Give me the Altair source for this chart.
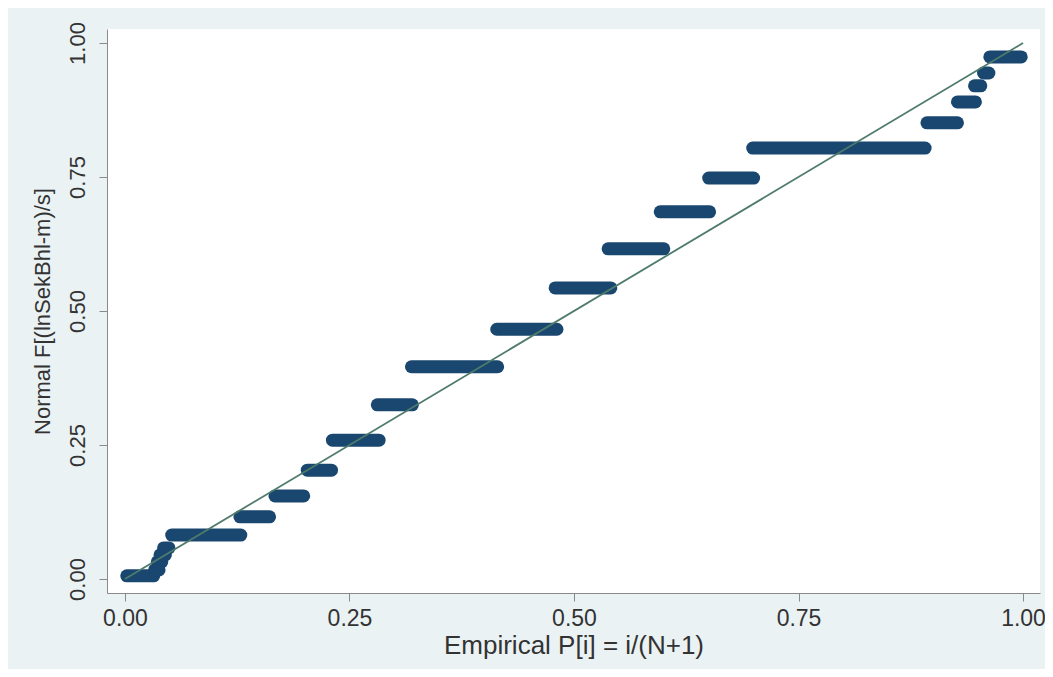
import altair as alt
import pandas as pd

# Step levels of the normal probability plot (Normal F value) and their empirical P ranges
step_y = [0.006, 0.017, 0.032, 0.045, 0.058, 0.082, 0.116, 0.155, 0.203, 0.259, 0.325,
          0.396, 0.466, 0.543, 0.616, 0.685, 0.748, 0.804, 0.851, 0.890, 0.920, 0.944, 0.974]
step_x0 = [0.002, 0.033, 0.036, 0.039, 0.043, 0.052, 0.128, 0.167, 0.203, 0.231, 0.281,
           0.319, 0.414, 0.479, 0.538, 0.596, 0.650, 0.699, 0.893, 0.927, 0.946, 0.956, 0.963]
step_x1 = [0.032, 0.038, 0.041, 0.045, 0.049, 0.129, 0.161, 0.199, 0.230, 0.283, 0.320,
           0.415, 0.481, 0.541, 0.600, 0.651, 0.700, 0.891, 0.927, 0.947, 0.953, 0.962, 0.998]

# Reference diagonal
ref_x = [0.0, 1.0]
ref_y = [0.0, 1.0]

tick_vals = [0.0, 0.25, 0.5, 0.75, 1.0]

steps = pd.DataFrame({"y": step_y, "x0": step_x0, "x1": step_x1})
ref = pd.DataFrame({"x": ref_x, "y": ref_y})

FONT = "Liberation Sans"

xscale = alt.Scale(domain=[-0.0200, 1.0189], nice=False, zero=False)
yscale = alt.Scale(domain=[-0.0261, 1.0261], nice=False, zero=False)

xaxis = alt.Axis(title="Empirical P[i] = i/(N+1)", values=tick_vals, format=".2f",
                 grid=False, domainColor="#8a8a8a", tickColor="#8a8a8a", tickSize=8,
                 labelFontSize=23, labelColor="#333333", labelFont=FONT, labelPadding=6,
                 titleFontSize=26, titleFont=FONT, titleFontWeight="normal",
                 titleColor="#333333", titlePadding=2)
yaxis = alt.Axis(title="Normal F[(lnSekBhl-m)/s]", values=tick_vals, format=".2f",
                 grid=False, domainColor="#8a8a8a", tickColor="#8a8a8a", tickSize=8,
                 labelFontSize=22, labelColor="#333333", labelFont=FONT, labelAngle=-90,
                 labelAlign="center", labelBaseline="bottom", labelPadding=10,
                 titleFontSize=22, titleFont=FONT, titleFontWeight="normal",
                 titleColor="#333333", titlePadding=12)

bars = alt.Chart(steps).mark_rule(strokeWidth=13, strokeCap="round", color="#1a476f").encode(
    x=alt.X("x0:Q", scale=xscale, axis=xaxis),
    x2="x1:Q",
    y=alt.Y("y:Q", scale=yscale, axis=yaxis),
)

line = alt.Chart(ref).mark_line(color="#4e7b6b", strokeWidth=1.8).encode(
    x=alt.X("x:Q", scale=xscale),
    y=alt.Y("y:Q", scale=yscale),
)

chart = alt.layer(bars, line).properties(
    width=933, height=564,
    autosize=alt.AutoSizeParams(type="none"),
    padding={"left": 99, "top": 21, "right": 5, "bottom": 76},
    background="#EAF2F3",
).configure_view(fill="white", strokeWidth=0)

chart.save("out.html", embed_options={"renderer": "svg", "actions": False})
